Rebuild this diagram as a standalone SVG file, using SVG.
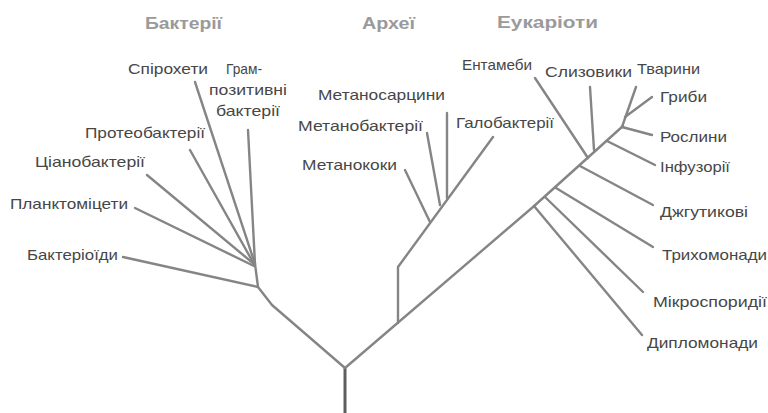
<svg xmlns="http://www.w3.org/2000/svg" width="768" height="413" viewBox="0 0 768 413">
  <style>
    .bg { fill: #ffffff; }
    .edge { fill: none; stroke: #858585; stroke-width: 2.4; stroke-linecap: round; stroke-linejoin: round; }
    .trunk { fill: none; stroke: #5e5e5e; stroke-width: 3; }
    .lbl { font-family: "Liberation Sans", "Noto Sans", sans-serif; font-size: 14.5px; fill: #474747; }
    .hdr { font-family: "Liberation Sans", "Noto Sans", sans-serif; font-size: 16px; font-weight: bold; fill: #9a9a9a; }
  </style>
  <rect class="bg" width="768" height="413"/>

  <!-- domain headings -->
  <g id="domains">
    <text class="hdr" x="145" y="29" textLength="77" lengthAdjust="spacingAndGlyphs">Бактерії</text>
    <text class="hdr" x="362" y="29" textLength="53" lengthAdjust="spacingAndGlyphs">Археї</text>
    <text class="hdr" x="497" y="28" textLength="101" lengthAdjust="spacingAndGlyphs">Еукаріоти</text>
  </g>

  <!-- tree branches -->
  <g id="connectors">
    <!-- root -->
    <path class="trunk" d="M345,413 V368"/>
    <!-- bacteria stem -->
    <path class="edge" d="M345,368 L272,305 L258,287 L255,264"/>
    <path class="edge" d="M258,287 L123,257"/>
    <path class="edge" d="M254,266 L135,208"/>
    <path class="edge" d="M254,264 L147,175"/>
    <path class="edge" d="M254,264 L190,150"/>
    <path class="edge" d="M255,264 L195,82"/>
    <path class="edge" d="M255,264 L248,130"/>
    <!-- archaea/eukaryote stem -->
    <path class="edge" d="M345,368 L533,207 L623,126"/>
    <!-- archaea -->
    <path class="edge" d="M398,323 V267 L493,137"/>
    <path class="edge" d="M430,222 L405,170"/>
    <path class="edge" d="M440,205 L427,133"/>
    <path class="edge" d="M447,198 V113"/>
    <!-- eukaryotes -->
    <path class="edge" d="M534,206 L642,335"/>
    <path class="edge" d="M545,197 L643,292"/>
    <path class="edge" d="M556,188 L653,247"/>
    <path class="edge" d="M580,166 L653,205"/>
    <path class="edge" d="M607,141 L655,165"/>
    <path class="edge" d="M588,158 L535,78"/>
    <path class="edge" d="M594,150 L590,87"/>
    <path class="edge" d="M622,127 L636,87"/>
    <path class="edge" d="M625,117 L652,97"/>
    <path class="edge" d="M622,127 L652,135"/>
  </g>

  <!-- bacteria -->
  <g id="n-spirochetes"><text class="lbl" x="128" y="74" textLength="80" lengthAdjust="spacingAndGlyphs">Спірохети</text></g>
  <g id="n-grampositive">
    <text class="lbl" x="226" y="74" textLength="36" lengthAdjust="spacingAndGlyphs">Грам-</text>
    <text class="lbl" x="209" y="95" textLength="78" lengthAdjust="spacingAndGlyphs">позитивні</text>
    <text class="lbl" x="216" y="116" textLength="64" lengthAdjust="spacingAndGlyphs">бактерії</text>
  </g>
  <g id="n-proteobacteria"><text class="lbl" x="85" y="138" textLength="120" lengthAdjust="spacingAndGlyphs">Протеобактерії</text></g>
  <g id="n-cyanobacteria"><text class="lbl" x="35" y="167" textLength="110" lengthAdjust="spacingAndGlyphs">Ціанобактерії</text></g>
  <g id="n-planctomycetes"><text class="lbl" x="10" y="209" textLength="118" lengthAdjust="spacingAndGlyphs">Планктоміцети</text></g>
  <g id="n-bacteroids"><text class="lbl" x="27" y="260" textLength="91" lengthAdjust="spacingAndGlyphs">Бактеріоїди</text></g>

  <!-- archaea -->
  <g id="n-methanosarcina"><text class="lbl" x="318" y="100" textLength="127" lengthAdjust="spacingAndGlyphs">Метаносарцини</text></g>
  <g id="n-methanobacteria"><text class="lbl" x="298" y="131" textLength="125" lengthAdjust="spacingAndGlyphs">Метанобактерії</text></g>
  <g id="n-methanococci"><text class="lbl" x="302" y="170" textLength="95" lengthAdjust="spacingAndGlyphs">Метанококи</text></g>
  <g id="n-halobacteria"><text class="lbl" x="456" y="128" textLength="98" lengthAdjust="spacingAndGlyphs">Галобактерії</text></g>

  <!-- eukaryotes -->
  <g id="n-entamoeba"><text class="lbl" x="462" y="70" textLength="70" lengthAdjust="spacingAndGlyphs">Ентамеби</text></g>
  <g id="n-slimemolds"><text class="lbl" x="545" y="77" textLength="87" lengthAdjust="spacingAndGlyphs">Слизовики</text></g>
  <g id="n-animals"><text class="lbl" x="637" y="74" textLength="63" lengthAdjust="spacingAndGlyphs">Тварини</text></g>
  <g id="n-fungi"><text class="lbl" x="660" y="102" textLength="47" lengthAdjust="spacingAndGlyphs">Гриби</text></g>
  <g id="n-plants"><text class="lbl" x="660" y="142" textLength="67" lengthAdjust="spacingAndGlyphs">Рослини</text></g>
  <g id="n-ciliates"><text class="lbl" x="660" y="172" textLength="70" lengthAdjust="spacingAndGlyphs">Інфузорії</text></g>
  <g id="n-flagellates"><text class="lbl" x="660" y="217" textLength="88" lengthAdjust="spacingAndGlyphs">Джгутикові</text></g>
  <g id="n-trichomonads"><text class="lbl" x="662" y="260" textLength="105" lengthAdjust="spacingAndGlyphs">Трихомонади</text></g>
  <g id="n-microsporidia"><text class="lbl" x="653" y="307" textLength="114" lengthAdjust="spacingAndGlyphs">Мікроспоридії</text></g>
  <g id="n-diplomonads"><text class="lbl" x="647" y="348" textLength="111" lengthAdjust="spacingAndGlyphs">Дипломонади</text></g>
</svg>
